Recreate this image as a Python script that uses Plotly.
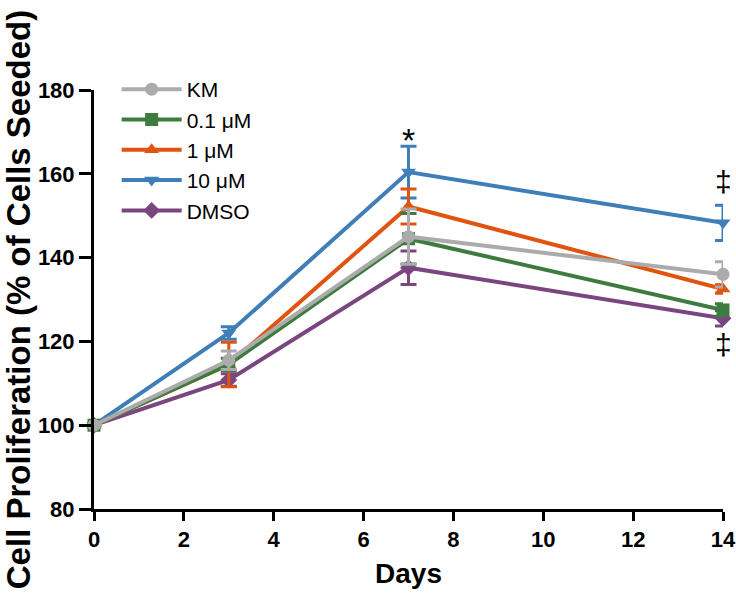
import plotly.graph_objects as go

days = [0, 3, 7, 14]
series_names = ["KM", "0.1 μM", "1 μM", "10 μM", "DMSO"]
km = [100, 115.5, 145.0, 136.0]
km_err = [0, 2.2, 6.6, 3.0]
c01 = [100, 114.5, 144.5, 127.5]
c01_err = [0, 1.5, 6.0, 1.5]
c1 = [100, 114.5, 152.2, 132.5]
c1_err = [0, 5.3, 4.2, 1.0]
c10 = [100, 122.0, 160.4, 148.3]
c10_err = [0, 1.5, 6.2, 4.2]
dmso = [100, 110.8, 137.6, 125.5]
dmso_err = [0, 1.5, 4.0, 1.8]

values = [km, c01, c1, c10, dmso]
errors = [km_err, c01_err, c1_err, c10_err, dmso_err]
colors = ["#ABABAB", "#3E7B3E", "#E0540F", "#3F7EB8", "#7A4680"]
symbols = ["circle", "square", "triangle-up", "triangle-down", "diamond"]

sig_x = [7, 14, 14]
sig_y = [168.0, 158.2, 119.2]
sig_text = ["*", "‡", "‡"]
sig_size = [34, 30, 30]

FONT = "Liberation Sans, Arial, Helvetica, sans-serif"

fig = go.Figure()
for i in reversed(range(5)):
    fig.add_trace(go.Scatter(
        x=days, y=values[i], name=series_names[i], mode="lines+markers",
        line=dict(color=colors[i], width=4),
        marker=dict(symbol=symbols[i], size=13, color=colors[i]),
        error_y=dict(type="data", array=errors[i], visible=True,
                     color=colors[i], thickness=3, width=8),
        legendrank=i + 1,
        cliponaxis=False,
    ))

for x, y, t, s in zip(sig_x, sig_y, sig_text, sig_size):
    fig.add_annotation(x=x, y=y, text=t, showarrow=False,
                       font=dict(family=FONT, size=s, color="black"))

fig.update_layout(
    width=736, height=597,
    margin=dict(l=94, r=13, t=90, b=88, autoexpand=False),
    paper_bgcolor="white", plot_bgcolor="white",
    showlegend=True,
    legend=dict(x=0.036, y=1.05, xanchor="left", yanchor="top",
                font=dict(family=FONT, size=21, color="black"),
                bgcolor="rgba(0,0,0,0)", itemwidth=60, tracegroupgap=0),
    xaxis=dict(range=[0, 14], tickvals=[0, 2, 4, 6, 8, 10, 12, 14],
               showline=True, linewidth=3, linecolor="black",
               ticks="outside", ticklen=9, tickwidth=3, tickcolor="black",
               showgrid=False, zeroline=False, automargin=False,
               tickfont=dict(family=FONT, size=22, weight="bold", color="black"),
               title=dict(text="Days", standoff=12,
                          font=dict(family=FONT, size=28, weight="bold", color="black"))),
    yaxis=dict(range=[80, 180], tickvals=[80, 100, 120, 140, 160, 180],
               showline=True, linewidth=3, linecolor="black",
               ticks="outside", ticklen=12, tickwidth=3, tickcolor="black",
               showgrid=False, zeroline=False, automargin=False,
               tickfont=dict(family=FONT, size=22, weight="bold", color="black"),
               title=dict(text="Cell Proliferation (% of Cells Seeded)", standoff=5,
                          font=dict(family=FONT, size=33, weight="bold", color="black"))),
)

fig.write_html("out.html", config={"displayModeBar": False},
               post_script="document.body.style.margin='0';document.body.style.overflow='hidden';")
